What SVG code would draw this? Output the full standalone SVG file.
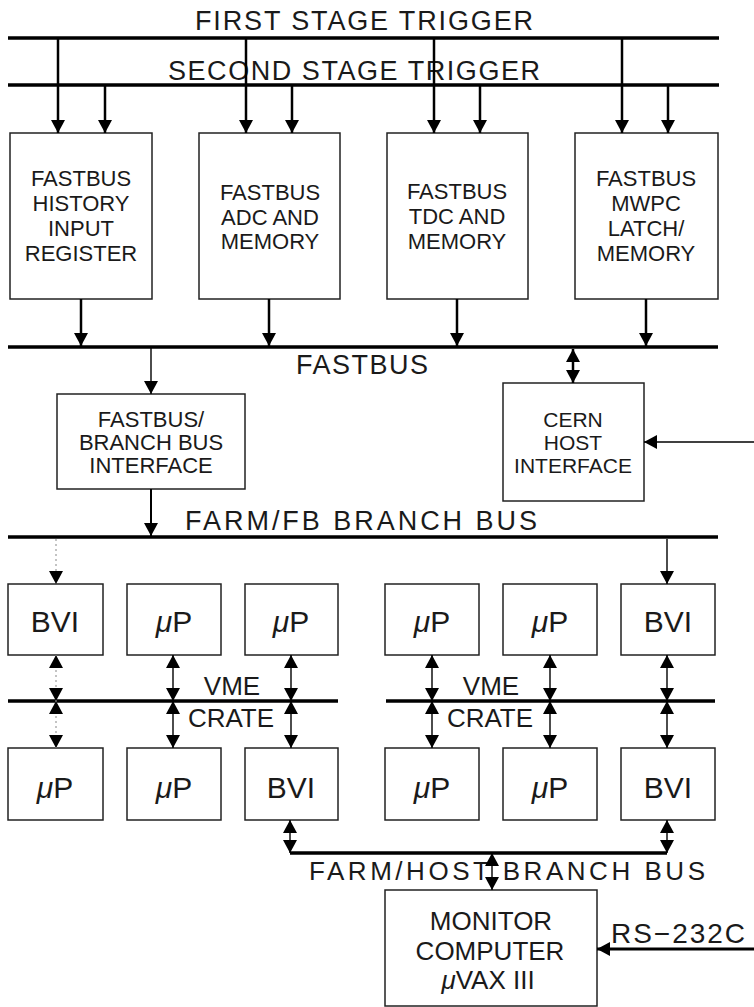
<svg xmlns="http://www.w3.org/2000/svg" width="754" height="1007" viewBox="0 0 754 1007">
<defs>
<marker id="ah" viewBox="0 0 13 14" refX="13" refY="7" markerWidth="13" markerHeight="14" markerUnits="userSpaceOnUse" orient="auto-start-reverse">
<path d="M0,0 L13,7 L0,14 Z" fill="#000"/>
</marker>
<style>
.box{fill:#fff;stroke:#222;stroke-width:1.5}
.bus{stroke:#000;stroke-width:3.5;fill:none}
.t{font-family:"Liberation Sans",Arial,sans-serif;fill:#1a1a1a;text-anchor:middle}
.bl{font-size:22px}
.bv{font-size:30px}
.lb{font-size:27px}
.c{stroke:#000;fill:none}
.thk{stroke-width:2.5}
.thn{stroke-width:1.4}
.dot{stroke:#aaa;stroke-width:1.4;stroke-dasharray:2 3}
</style>
</defs>
<rect width="754" height="1007" fill="#fff"/>

<g id="bus-first-stage-trigger">
<line class="bus" x1="8" y1="38" x2="719" y2="38"/>
<text class="t lb" x="364" y="30" textLength="338" lengthAdjust="spacing">FIRST STAGE TRIGGER</text>
</g>
<g id="bus-second-stage-trigger">
<line class="bus" x1="8" y1="85" x2="719" y2="85"/>
<text class="t lb" x="354" y="80" textLength="372" lengthAdjust="spacing">SECOND STAGE TRIGGER</text>
</g>

<g id="fb-history">
<rect class="box" x="10" y="133" width="142" height="166"/>
<text class="t bl" x="81" y="186">FASTBUS</text>
<text class="t bl" x="81" y="211">HISTORY</text>
<text class="t bl" x="81" y="236">INPUT</text>
<text class="t bl" x="81" y="261">REGISTER</text>
</g>
<g id="fb-adc">
<rect class="box" x="199" y="133" width="141" height="166"/>
<text class="t bl" x="270" y="200">FASTBUS</text>
<text class="t bl" x="270" y="225">ADC AND</text>
<text class="t bl" x="270" y="249">MEMORY</text>
</g>
<g id="fb-tdc">
<rect class="box" x="387" y="133" width="141" height="166"/>
<text class="t bl" x="457" y="199">FASTBUS</text>
<text class="t bl" x="457" y="224">TDC AND</text>
<text class="t bl" x="457" y="249">MEMORY</text>
</g>
<g id="fb-mwpc">
<rect class="box" x="575" y="133" width="143" height="166"/>
<text class="t bl" x="646" y="186">FASTBUS</text>
<text class="t bl" x="646" y="211">MWPC</text>
<text class="t bl" x="646" y="236">LATCH/</text>
<text class="t bl" x="646" y="261">MEMORY</text>
</g>

<g id="bus-fastbus">
<line class="bus" x1="8" y1="347" x2="718" y2="347"/>
<text class="t lb" x="362" y="374" textLength="132" lengthAdjust="spacing">FASTBUS</text>
</g>

<g id="fb-branch-interface">
<rect class="box" x="57" y="394" width="188" height="95"/>
<text class="t bl" x="151" y="427">FASTBUS/</text>
<text class="t bl" x="151" y="450">BRANCH BUS</text>
<text class="t bl" x="151" y="473">INTERFACE</text>
</g>
<g id="cern-host-interface">
<rect class="box" x="503" y="383" width="141" height="118"/>
<text class="t" font-size="21" x="573" y="427">CERN</text>
<text class="t" font-size="21" x="573" y="450">HOST</text>
<text class="t" font-size="21" x="573" y="473">INTERFACE</text>
</g>

<g id="bus-farm-fb-branch">
<line class="bus" x1="8" y1="537" x2="718" y2="537"/>
<text class="t lb" x="361" y="530" textLength="352" lengthAdjust="spacing">FARM/FB BRANCH BUS</text>
</g>

<g id="vme1-bvi"><rect class="box" x="8" y="584" width="95" height="71"/><text class="t bv" x="55" y="632">BVI</text></g>
<g id="vme1-up1"><rect class="box" x="127" y="584" width="94" height="71"/><text class="t bv" x="174" y="632"><tspan font-style="italic">μ</tspan>P</text></g>
<g id="vme1-up2"><rect class="box" x="245" y="584" width="93" height="71"/><text class="t bv" x="291" y="632"><tspan font-style="italic">μ</tspan>P</text></g>
<g id="vme1-up3"><rect class="box" x="8" y="748" width="95" height="72"/><text class="t bv" x="55" y="798"><tspan font-style="italic">μ</tspan>P</text></g>
<g id="vme1-up4"><rect class="box" x="127" y="748" width="94" height="72"/><text class="t bv" x="174" y="798"><tspan font-style="italic">μ</tspan>P</text></g>
<g id="vme1-bvi2"><rect class="box" x="245" y="748" width="93" height="72"/><text class="t bv" x="291" y="798">BVI</text></g>

<g id="vme-crate-1">
<line class="bus" x1="8" y1="701" x2="338" y2="701"/>
<text class="t" font-size="26" x="232" y="695">VME</text>
<text class="t" font-size="26" x="231" y="727">CRATE</text>
</g>

<g id="vme2-up1"><rect class="box" x="385" y="584" width="94" height="71"/><text class="t bv" x="432" y="632"><tspan font-style="italic">μ</tspan>P</text></g>
<g id="vme2-up2"><rect class="box" x="503" y="584" width="94" height="71"/><text class="t bv" x="550" y="632"><tspan font-style="italic">μ</tspan>P</text></g>
<g id="vme2-bvi"><rect class="box" x="621" y="584" width="94" height="71"/><text class="t bv" x="668" y="632">BVI</text></g>
<g id="vme2-up3"><rect class="box" x="385" y="748" width="94" height="72"/><text class="t bv" x="432" y="798"><tspan font-style="italic">μ</tspan>P</text></g>
<g id="vme2-up4"><rect class="box" x="503" y="748" width="94" height="72"/><text class="t bv" x="550" y="798"><tspan font-style="italic">μ</tspan>P</text></g>
<g id="vme2-bvi2"><rect class="box" x="621" y="748" width="94" height="72"/><text class="t bv" x="668" y="798">BVI</text></g>

<g id="vme-crate-2">
<line class="bus" x1="386" y1="701" x2="715" y2="701"/>
<text class="t" font-size="26" x="491" y="695">VME</text>
<text class="t" font-size="26" x="490" y="727">CRATE</text>
</g>

<g id="bus-farm-host-branch">
<line class="bus" x1="290" y1="853" x2="667" y2="853"/>
<text class="t" font-size="26" x="507" y="880" textLength="396" lengthAdjust="spacing">FARM/HOST BRANCH BUS</text>
</g>

<g id="monitor-computer">
<rect class="box" x="385" y="890" width="212" height="116"/>
<text class="t" font-size="26" x="491" y="930">MONITOR</text>
<text class="t" font-size="26" x="490" y="960">COMPUTER</text>
<text class="t" font-size="26" x="488" y="989"><tspan font-style="italic">μ</tspan>VAX III</text>
</g>

<g id="rs232c-label">
<text class="t" font-size="28" x="679" y="943" letter-spacing="2">RS−232C</text>
</g>

<g id="connectors">
<line class="c thk" x1="58" y1="38" x2="58" y2="133" marker-end="url(#ah)"/>
<line class="c thk" x1="105" y1="85" x2="105" y2="133" marker-end="url(#ah)"/>
<line class="c thk" x1="246" y1="38" x2="246" y2="133" marker-end="url(#ah)"/>
<line class="c thk" x1="292" y1="85" x2="292" y2="133" marker-end="url(#ah)"/>
<line class="c thk" x1="434" y1="38" x2="434" y2="133" marker-end="url(#ah)"/>
<line class="c thk" x1="480" y1="85" x2="480" y2="133" marker-end="url(#ah)"/>
<line class="c thk" x1="622" y1="38" x2="622" y2="133" marker-end="url(#ah)"/>
<line class="c thk" x1="668" y1="85" x2="668" y2="133" marker-end="url(#ah)"/>
<line class="c thk" x1="81" y1="299" x2="81" y2="346" marker-end="url(#ah)"/>
<line class="c thk" x1="269" y1="299" x2="269" y2="346" marker-end="url(#ah)"/>
<line class="c thk" x1="457" y1="299" x2="457" y2="346" marker-end="url(#ah)"/>
<line class="c thk" x1="646" y1="299" x2="646" y2="346" marker-end="url(#ah)"/>
<line class="c thn" x1="151" y1="347" x2="151" y2="394" marker-end="url(#ah)"/>
<line class="c" stroke-width="2" x1="151" y1="489" x2="151" y2="536" marker-end="url(#ah)"/>
<line class="c thk" x1="573" y1="349" x2="573" y2="383" marker-start="url(#ah)" marker-end="url(#ah)"/>
<line class="c thn" x1="754" y1="442" x2="644" y2="442" marker-end="url(#ah)"/>
<line class="dot" x1="56" y1="539" x2="56" y2="584" marker-end="url(#ah)"/>
<line class="c thn" x1="667" y1="539" x2="667" y2="584" marker-end="url(#ah)"/>
<line class="dot" x1="56" y1="655" x2="56" y2="701" marker-start="url(#ah)" marker-end="url(#ah)"/>
<line class="dot" x1="56" y1="701" x2="56" y2="748" marker-start="url(#ah)" marker-end="url(#ah)"/>
<line class="c thn" x1="173" y1="655" x2="173" y2="701" marker-start="url(#ah)" marker-end="url(#ah)"/>
<line class="c thn" x1="173" y1="701" x2="173" y2="748" marker-start="url(#ah)" marker-end="url(#ah)"/>
<line class="c thn" x1="291" y1="655" x2="291" y2="701" marker-start="url(#ah)" marker-end="url(#ah)"/>
<line class="c thn" x1="291" y1="701" x2="291" y2="748" marker-start="url(#ah)" marker-end="url(#ah)"/>
<line class="c thn" x1="432" y1="655" x2="432" y2="701" marker-start="url(#ah)" marker-end="url(#ah)"/>
<line class="c thn" x1="432" y1="701" x2="432" y2="748" marker-start="url(#ah)" marker-end="url(#ah)"/>
<line class="c thn" x1="550" y1="655" x2="550" y2="701" marker-start="url(#ah)" marker-end="url(#ah)"/>
<line class="c thn" x1="550" y1="701" x2="550" y2="748" marker-start="url(#ah)" marker-end="url(#ah)"/>
<line class="c thn" x1="667" y1="655" x2="667" y2="701" marker-start="url(#ah)" marker-end="url(#ah)"/>
<line class="c thn" x1="667" y1="701" x2="667" y2="748" marker-start="url(#ah)" marker-end="url(#ah)"/>
<line class="c thn" x1="290" y1="820" x2="290" y2="853" marker-start="url(#ah)" marker-end="url(#ah)"/>
<line class="c thn" x1="667" y1="820" x2="667" y2="853" marker-start="url(#ah)" marker-end="url(#ah)"/>
<line class="c thn" x1="492" y1="853" x2="492" y2="890" marker-start="url(#ah)" marker-end="url(#ah)"/>
<line class="c" stroke-width="3" x1="754" y1="949" x2="597" y2="949" marker-end="url(#ah)"/>
</g>
</svg>
